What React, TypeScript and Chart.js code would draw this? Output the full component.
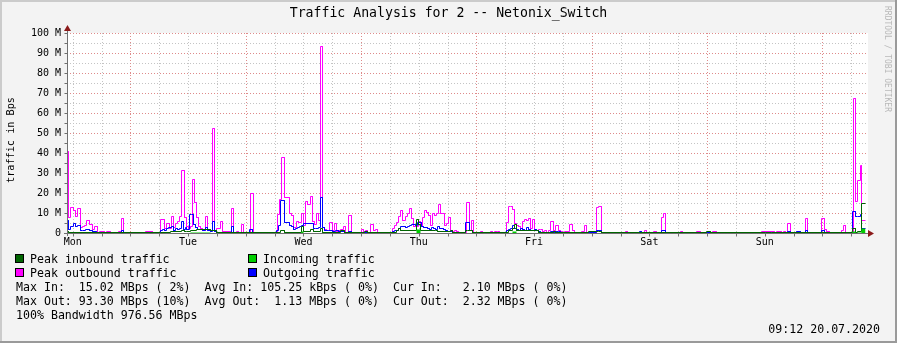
import { useEffect, useRef } from "react";
import { Chart, registerables } from "chart.js";

Chart.register(...registerables);

// ---------- data (time in hours since Mon 13.07.2020 00:00, values in MBps) ----------
const X_MIN = 10.8;
const X_MAX = 177.5;
const END_HOUR = 176.88;

const dayLabels = ["Mon", "Tue", "Wed", "Thu", "Fri", "Sat", "Sun"];
const dayLabelHours = [12, 36, 60, 84, 108, 132, 156];
const majorGridHours = [24, 48, 72, 96, 120, 144, 168];
const minorGridHours = [12, 18, 30, 36, 42, 54, 60, 66, 78, 84, 90, 102, 108, 114, 126, 132, 138, 150, 156, 162, 174];

const yMajorValues = [10, 20, 30, 40, 50, 60, 70, 80, 90, 100];
const yMinorValues = [5, 15, 25, 35, 45, 55, 65, 75, 85, 95];
const yTickValues = [0, 10, 20, 30, 40, 50, 60, 70, 80, 90, 100];
const yTickLabels = ["0", "10 M", "20 M", "30 M", "40 M", "50 M", "60 M", "70 M", "80 M", "90 M", "100 M"];

const chartTitle = "Traffic Analysis for 2 -- Netonix_Switch";
const yAxisTitle = "traffic in Bps";
const watermark = "RRDTOOL / TOBI OETIKER";
const legendItems = [
  { label: "Peak inbound traffic", color: "#006400" },
  { label: "Incoming traffic", color: "#00CF00" },
  { label: "Peak outbound traffic", color: "#FF00FF" },
  { label: "Outgoing traffic", color: "#0000FF" },
];
const statLines = [
  "Max In:  15.02 MBps ( 2%)  Avg In: 105.25 kBps ( 0%)  Cur In:   2.10 MBps ( 0%)",
  "Max Out: 93.30 MBps (10%)  Avg Out:  1.13 MBps ( 0%)  Cur Out:  2.32 MBps ( 0%)",
  "100% Bandwidth 976.56 MBps",
];
const timestamp = "09:12 20.07.2020";

// [start hour, value] — value holds until next start
const incoming: [number, number][] = [
  [10.8, 0], [36.42, 0.4], [40.58, 0], [59.58, 1.0], [59.99, 0], [83.44, 1.8], [84.28, 0],
  [103.57, 1.0], [104.4, 0], [174.31, 0.8], [174.86, 0], [175.27, 0.5], [176.25, 2.1],
];

const peakInbound: [number, number][] = [
  [10.8, 1.0], [11.03, 0.4], [17.69, 0.2], [30.17, 0.5], [32.25, 0.7], [34.61, 1.2], [35.17, 0.7],
  [35.73, 1.0], [36.42, 1.3], [37.81, 1.8], [40.58, 1.2], [41.97, 0.5], [55.14, 1.5], [56.12, 0.5],
  [59.58, 3.5], [59.99, 0.8], [61.39, 1.8], [62.07, 0.8], [63.47, 2.2], [63.88, 0.5], [67.78, 1.5],
  [68.46, 0.3], [72.62, 0.6], [73.31, 0.1], [79.28, 1.5], [79.84, 2.2], [80.26, 1.2], [83.44, 6.8],
  [83.86, 4.5], [84.28, 1.2], [87.46, 1.5], [87.88, 0.8], [90.52, 1.2], [90.94, 0.2], [93.7, 1.5],
  [94.12, 1.2], [95.1, 0.2], [102.73, 1.2], [103.57, 2.2], [103.98, 4.5], [104.4, 1.2], [108.42, 1.5],
  [108.98, 0.5], [112.02, 0.7], [112.43, 0.3], [119.38, 0.6], [121.46, 0.7], [122.0, 0.1], [143.79, 0.8],
  [144.63, 0.1], [156.13, 0.3], [157.52, 0.1], [174.31, 2.3], [174.86, 0.2], [175.27, 0.8], [176.25, 15.0],
];

const outgoing: [number, number][] = [
  [10.8, 6.5], [11.03, 1.8], [11.44, 3.5], [12.13, 4.8], [12.55, 3.2], [12.96, 4.0], [13.67, 1.5],
  [14.09, 1.2], [14.63, 1.8], [15.46, 1.2], [16.02, 0.7], [17.0, 0.2], [22.12, 1.5], [22.54, 0.2],
  [30.17, 1.2], [30.59, 1.8], [31.01, 1.2], [31.42, 2.2], [31.98, 2.8], [32.52, 3.5], [32.94, 1.5],
  [33.36, 2.3], [33.77, 1.8], [34.19, 2.5], [34.61, 6.0], [35.02, 1.8], [35.44, 2.8], [35.73, 1.8],
  [36.27, 9.5], [36.69, 9.2], [37.1, 4.5], [37.52, 2.8], [37.94, 1.8], [39.06, 1.5], [39.6, 2.8],
  [40.02, 1.2], [40.58, 0.8], [40.99, 6.0], [41.41, 0.7], [41.83, 0.5], [45.01, 3.5], [45.43, 0.3],
  [48.76, 1.8], [49.46, 0.3], [54.46, 1.2], [54.87, 4.0], [55.14, 16.5], [56.12, 5.5], [57.08, 3.8],
  [57.5, 3.2], [57.91, 1.8], [58.33, 2.2], [58.74, 2.8], [59.16, 3.5], [59.58, 3.8], [59.99, 4.8],
  [62.07, 2.3], [62.49, 2.2], [63.05, 2.8], [63.47, 17.8], [63.88, 2.8], [64.3, 1.2], [65.28, 1.5],
  [65.96, 0.8], [66.65, 1.5], [67.21, 0.8], [68.46, 0.5], [69.44, 0.8], [69.98, 0.2], [78.45, 1.0],
  [78.87, 1.5], [79.84, 2.2], [80.26, 3.5], [81.22, 2.8], [81.63, 3.3], [82.05, 3.8], [82.47, 4.5],
  [83.3, 3.8], [83.72, 5.2], [84.55, 3.2], [84.96, 2.8], [85.8, 2.5], [86.21, 2.0], [86.63, 2.8],
  [87.04, 2.3], [87.46, 2.0], [87.88, 3.2], [88.29, 2.3], [89.12, 1.7], [89.54, 1.2], [89.96, 1.0],
  [90.37, 0.8], [90.94, 0.5], [93.7, 5.5], [94.54, 1.5], [95.1, 0.3], [102.32, 1.2], [102.73, 1.8],
  [103.15, 2.5], [103.57, 3.8], [103.98, 2.5], [104.4, 1.8], [104.82, 1.5], [105.23, 2.5], [105.65, 1.8],
  [106.06, 1.2], [106.48, 2.8], [106.9, 1.8], [107.31, 1.5], [107.73, 1.2], [108.15, 1.8], [108.56, 1.5],
  [108.98, 0.8], [109.25, 0.5], [109.66, 0.2], [110.91, 0.5], [111.33, 0.8], [112.02, 0.3], [112.43, 0.8],
  [112.99, 0.6], [113.41, 0.2], [115.2, 0.5], [116.05, 0.2], [117.84, 0.5], [118.96, 0.1], [120.9, 1.3],
  [122.0, 0.1], [129.91, 0.8], [130.33, 0.1], [134.49, 1.3], [135.32, 0.1], [156.13, 0.4], [157.52, 0.1],
  [160.85, 0.8], [161.42, 0.1], [162.66, 0.8], [163.35, 0.1], [164.45, 1.5], [164.87, 0.1], [167.78, 1.5],
  [168.49, 0.5], [168.91, 0.1], [172.36, 0.5], [172.78, 0.1], [174.31, 11.0], [174.86, 8.2], [175.27, 8.5],
  [175.84, 9.5], [176.25, 2.4],
];

const peakOutbound: [number, number][] = [
  [10.8, 40.7], [11.03, 8.0], [11.44, 12.7], [12.13, 11.5], [12.55, 8.2], [12.96, 12.3], [13.67, 2.8],
  [13.94, 3.2], [14.5, 3.7], [14.92, 6.3], [15.46, 4.5], [16.02, 1.8], [16.44, 3.5], [17.13, 0.5],
  [17.54, 1.0], [18.67, 0.5], [18.94, 1.0], [19.77, 0.3], [21.58, 1.0], [22.12, 7.3], [22.54, 0.5],
  [24.62, 0.2], [27.11, 0.8], [28.51, 0.2], [30.32, 6.8], [31.15, 2.2], [31.57, 4.8], [32.11, 2.2],
  [32.52, 8.2], [32.94, 2.8], [33.36, 4.8], [33.77, 5.8], [34.19, 8.5], [34.61, 31.5], [35.17, 7.8],
  [35.73, 3.5], [36.15, 2.5], [36.56, 3.5], [36.98, 26.8], [37.39, 15.5], [37.81, 8.0], [38.23, 3.5],
  [38.64, 2.3], [39.06, 1.5], [39.6, 8.3], [40.02, 1.8], [40.43, 1.2], [41.14, 52.3], [41.56, 1.5],
  [41.97, 2.2], [42.8, 5.8], [43.22, 1.0], [44.74, 0.2], [45.01, 12.3], [45.43, 0.2], [45.99, 1.0],
  [46.4, 0.2], [47.09, 4.5], [47.51, 0.3], [48.9, 19.8], [49.59, 0.3], [54.58, 9.5], [55.0, 16.8],
  [55.41, 37.8], [56.12, 17.8], [57.08, 9.8], [57.5, 8.7], [57.91, 2.8], [58.47, 5.8], [59.04, 5.2],
  [59.58, 9.8], [59.99, 3.8], [60.41, 15.8], [60.82, 14.5], [61.39, 18.2], [61.8, 5.7], [62.22, 4.5],
  [62.64, 9.8], [63.05, 6.5], [63.47, 93.3], [63.88, 2.8], [64.3, 1.8], [64.86, 1.2], [65.4, 5.5],
  [65.96, 1.2], [66.38, 4.8], [66.94, 0.7], [67.36, 1.2], [67.78, 1.8], [68.32, 3.2], [68.73, 0.5],
  [69.44, 8.8], [69.98, 0.3], [72.06, 1.8], [72.48, 0.3], [72.89, 1.2], [73.31, 0.3], [73.87, 4.3],
  [74.56, 1.2], [74.98, 1.8], [75.39, 0.3], [78.45, 2.3], [78.87, 3.8], [79.28, 5.3], [79.84, 8.2],
  [80.26, 11.5], [80.68, 6.5], [81.22, 8.5], [81.63, 9.8], [82.05, 12.3], [82.47, 7.3], [82.88, 3.2],
  [83.86, 5.7], [84.28, 3.2], [84.69, 7.7], [85.11, 11.2], [85.53, 10.3], [85.94, 9.0], [86.36, 4.0],
  [86.77, 9.8], [87.19, 9.0], [87.61, 9.8], [88.02, 14.5], [88.44, 9.8], [89.27, 4.0], [89.69, 4.8],
  [90.1, 7.7], [90.67, 1.2], [91.08, 0.8], [91.5, 1.2], [91.91, 0.7], [92.33, 0.2], [93.85, 15.3],
  [94.54, 1.2], [94.95, 6.5], [95.37, 0.2], [96.76, 0.7], [97.18, 0.2], [98.84, 1.0], [99.26, 0.2],
  [99.68, 1.0], [100.09, 0.2], [100.36, 1.0], [100.78, 0.2], [102.32, 5.5], [102.73, 13.5], [103.15, 13.2],
  [103.57, 11.8], [103.98, 4.8], [104.4, 4.0], [104.82, 3.5], [105.23, 2.3], [105.65, 5.8], [106.06, 7.0],
  [106.48, 6.5], [106.9, 7.3], [107.31, 2.5], [107.73, 6.8], [108.15, 1.5], [108.98, 2.0], [109.25, 1.8],
  [109.66, 0.7], [110.08, 1.3], [110.5, 0.3], [110.91, 1.3], [111.33, 5.8], [112.02, 1.3], [112.43, 3.8],
  [112.99, 1.3], [113.41, 0.8], [113.83, 0.3], [114.24, 0.8], [115.34, 4.3], [116.05, 1.3], [116.47, 0.5],
  [117.84, 0.8], [118.55, 3.8], [118.96, 0.1], [120.9, 12.8], [121.46, 13.3], [122.0, 0.1], [123.81, 0.5],
  [127.0, 1.0], [127.41, 0.5], [130.89, 1.3], [131.3, 0.5], [132.82, 0.8], [133.53, 0.5], [134.49, 7.8],
  [134.91, 9.8], [135.32, 0.5], [138.38, 0.8], [138.94, 0.5], [141.86, 0.8], [142.54, 0.5], [145.18, 0.8],
  [146.02, 0.1], [147.81, 0.5], [148.51, 0.1], [149.89, 0.3], [155.3, 0.8], [157.94, 0.3], [158.5, 0.8],
  [159.46, 0.3], [159.88, 0.8], [160.29, 0.3], [160.85, 4.8], [161.42, 0.3], [162.66, 0.8], [163.35, 0.3],
  [164.45, 7.3], [164.87, 0.3], [167.78, 7.3], [168.49, 1.8], [168.91, 0.8], [169.59, 0.3], [171.94, 1.2],
  [172.36, 3.8], [172.78, 0.3], [174.44, 67.3], [174.86, 16.0], [175.27, 26.5], [175.84, 33.8], [176.25, 6.5],
];

// ---------- helpers ----------
function toSteps(series: [number, number][], end: number) {
  const pts: { x: number; y: number }[] = [];
  series.forEach(([h, v], i) => {
    if (i > 0) pts.push({ x: h, y: series[i - 1][1] });
    pts.push({ x: h, y: v });
  });
  pts.push({ x: end, y: series[series.length - 1][1] });
  return pts;
}

const MONO = "'DejaVu Sans Mono', 'Liberation Mono', monospace";

// snap line vertices to pixel centres so 1px lines stay crisp, like rrdtool
const snapPlugin = {
  id: "snapPixels",
  afterDatasetsUpdate(chart: any) {
    chart.data.datasets.forEach((_d: any, i: number) => {
      const meta = chart.getDatasetMeta(i);
      meta.data.forEach((pt: any) => {
        pt.x = Math.floor(pt.x) + 0.5;
        pt.y = Math.floor(pt.y) + 0.5;
      });
    });
  },
};

const rrdPlugin = {
  id: "rrdDecor",
  beforeDraw(chart: any) {
    const { ctx, chartArea: a, scales } = chart;
    const x = scales.x;
    const y = scales.y;
    const W = chart.width;
    const H = chart.height;
    ctx.save();
    ctx.fillStyle = "#F3F3F3";
    ctx.fillRect(0, 0, W, H);
    ctx.fillStyle = "#CBCBCB";
    ctx.fillRect(0, 0, W, 2);
    ctx.fillRect(0, 0, 2, H);
    ctx.fillStyle = "#9A9A9A";
    ctx.fillRect(0, H - 2, W, 2);
    ctx.fillRect(W - 2, 0, 2, H);
    ctx.fillStyle = "#FFFFFF";
    ctx.fillRect(a.left, a.top, a.right - a.left, a.bottom - a.top);

    ctx.lineWidth = 1;
    ctx.setLineDash([1, 2]);
    const vline = (h: number, color: string) => {
      const px = Math.round(x.getPixelForValue(h)) + 0.5;
      ctx.strokeStyle = color;
      ctx.beginPath();
      ctx.moveTo(px, a.top);
      ctx.lineTo(px, a.bottom);
      ctx.stroke();
    };
    const hline = (v: number, color: string) => {
      const py = Math.round(y.getPixelForValue(v)) + 0.5;
      ctx.strokeStyle = color;
      ctx.beginPath();
      ctx.moveTo(a.left, py);
      ctx.lineTo(a.right, py);
      ctx.stroke();
    };
    const minorC = "#C4C4C4";
    const majorC = "#DE8A8A";
    minorGridHours.forEach((h) => vline(h, minorC));
    yMinorValues.forEach((v) => hline(v, minorC));
    majorGridHours.forEach((h) => vline(h, majorC));
    yMajorValues.forEach((v) => hline(v, majorC));
    ctx.restore();
  },
  afterDatasetsDraw(chart: any) {
    const { ctx, chartArea: a, scales } = chart;
    const x = scales.x;
    const y = scales.y;
    const W = chart.width;
    ctx.save();
    // axes
    const ax = Math.round(a.left) + 0.5;
    const ay = Math.round(a.bottom) + 0.5;
    ctx.strokeStyle = "#707070";
    ctx.lineWidth = 1;
    ctx.beginPath();
    ctx.moveTo(ax, a.bottom + 3);
    ctx.lineTo(ax, a.top - 4);
    ctx.moveTo(a.left - 3, ay);
    ctx.lineTo(a.right + 2, ay);
    ctx.stroke();
    // ticks
    ctx.beginPath();
    yMinorValues.concat(yMajorValues).forEach((v) => {
      const py = Math.round(y.getPixelForValue(v)) + 0.5;
      ctx.moveTo(ax - 3, py);
      ctx.lineTo(ax, py);
    });
    minorGridHours.concat(majorGridHours).forEach((h) => {
      const px = Math.round(x.getPixelForValue(h)) + 0.5;
      ctx.moveTo(px, ay);
      ctx.lineTo(px, ay + 3);
    });
    ctx.stroke();
    // arrows
    ctx.fillStyle = "#8B1A1A";
    ctx.beginPath();
    ctx.moveTo(ax, a.top - 8);
    ctx.lineTo(ax - 3.5, a.top - 2);
    ctx.lineTo(ax + 3.5, a.top - 2);
    ctx.closePath();
    ctx.fill();
    ctx.beginPath();
    ctx.moveTo(a.right + 6, ay);
    ctx.lineTo(a.right, ay - 3.5);
    ctx.lineTo(a.right, ay + 3.5);
    ctx.closePath();
    ctx.fill();

    // y tick labels
    ctx.fillStyle = "#000000";
    ctx.font = `10px ${MONO}`;
    ctx.textAlign = "right";
    ctx.textBaseline = "middle";
    yTickValues.forEach((v, i) => {
      ctx.fillText(yTickLabels[i], a.left - 6, y.getPixelForValue(v) + 0.5);
    });
    // x labels
    ctx.textAlign = "center";
    dayLabelHours.forEach((h, i) => {
      ctx.fillText(dayLabels[i], x.getPixelForValue(h), a.bottom + 9.5);
    });
    // title
    ctx.font = `13.2px ${MONO}`;
    ctx.fillText(chartTitle, W / 2, 14);
    // y axis title
    ctx.font = `10.2px ${MONO}`;
    ctx.save();
    ctx.translate(11, 140);
    ctx.rotate(-Math.PI / 2);
    ctx.fillText(yAxisTitle, 0, 0);
    ctx.restore();
    // watermark
    ctx.save();
    ctx.font = `8px ${MONO}`;
    ctx.fillStyle = "#B8B8B8";
    ctx.translate(887, 59);
    ctx.rotate(Math.PI / 2);
    ctx.fillText(watermark, 0, 0);
    ctx.restore();

    // legend
    ctx.font = `11.6px ${MONO}`;
    ctx.textAlign = "left";
    ctx.fillStyle = "#000000";
    const rowY = [259, 273];
    legendItems.forEach((it, i) => {
      const col = i % 2;
      const row = Math.floor(i / 2);
      const bx = col === 0 ? 15.5 : 248.5;
      const by = rowY[row] - 4.5;
      ctx.fillStyle = it.color;
      ctx.fillRect(bx, by, 8, 8);
      ctx.strokeStyle = "#000000";
      ctx.lineWidth = 1;
      ctx.strokeRect(bx, by, 8, 8);
      ctx.fillStyle = "#000000";
      ctx.fillText(it.label, col === 0 ? 30 : 263, rowY[row] + 0.5);
    });
    statLines.forEach((s, i) => {
      ctx.fillText(s, 16, 287.5 + i * 14);
    });
    ctx.textAlign = "right";
    ctx.fillText(timestamp, 880, 329.5);
    ctx.restore();
  },
};

export default function App() {
  const canvasRef = useRef<HTMLCanvasElement | null>(null);

  useEffect(() => {
    document.body.style.margin = "0";
    document.body.style.overflow = "hidden";
    const canvas = canvasRef.current;
    if (!canvas) return;
    const chart = new Chart(canvas, {
      type: "line",
      data: {
        datasets: [
          {
            label: "Incoming traffic",
            data: toSteps(incoming, END_HOUR),
            borderColor: "#00CF00",
            backgroundColor: "#00CF00",
            borderWidth: 0,
            fill: "origin",
            pointRadius: 0,
            tension: 0,
          },
          {
            label: "Peak inbound traffic",
            data: toSteps(peakInbound, END_HOUR),
            borderColor: "#006400",
            borderWidth: 1,
            fill: false,
            pointRadius: 0,
            tension: 0,
          },
          {
            label: "Outgoing traffic",
            data: toSteps(outgoing, END_HOUR),
            borderColor: "#0000FF",
            borderWidth: 1,
            fill: false,
            pointRadius: 0,
            tension: 0,
          },
          {
            label: "Peak outbound traffic",
            data: toSteps(peakOutbound, END_HOUR),
            borderColor: "#FF00FF",
            borderWidth: 1,
            fill: false,
            pointRadius: 0,
            tension: 0,
          },
        ] as any,
      },
      options: {
        responsive: false,
        animation: false,
        events: [],
        layout: { padding: { left: 67, right: 29, top: 33, bottom: 110 } },
        scales: {
          x: { type: "linear", min: X_MIN, max: X_MAX, display: false },
          y: { type: "linear", min: 0, max: 100, display: false },
        },
        plugins: {
          legend: { display: false },
          tooltip: { enabled: false },
          title: { display: false },
        },
      },
      plugins: [snapPlugin, rrdPlugin],
    });
    return () => chart.destroy();
  }, []);

  return <canvas ref={canvasRef} width={897} height={343} style={{ display: "block" }} />;
}
